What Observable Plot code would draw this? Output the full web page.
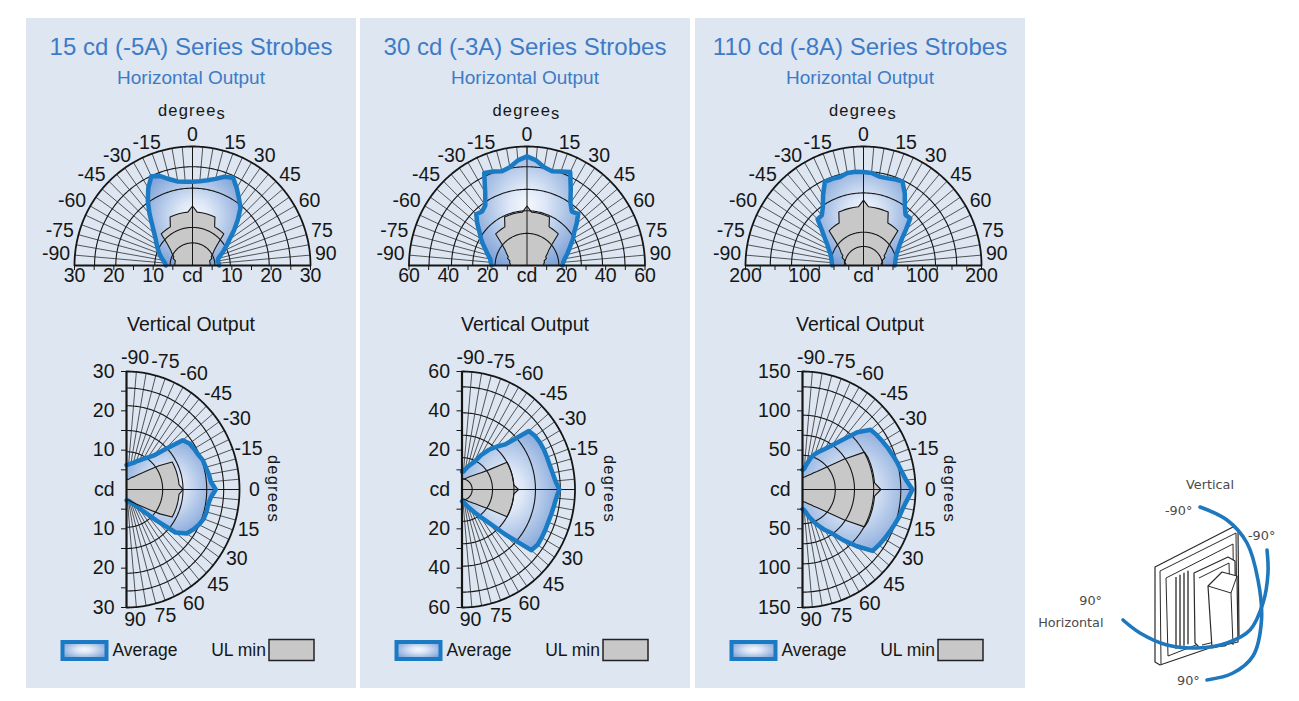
<!DOCTYPE html>
<html><head><meta charset="utf-8">
<script src="https://cdn.jsdelivr.net/npm/d3@7"></script>
<script src="https://cdn.jsdelivr.net/npm/@observablehq/plot@0.6"></script>
<style>
body{margin:0;background:#fff;}
#root{position:relative;width:1299px;height:701px;overflow:hidden;font-family:"Liberation Sans",Arial,Helvetica,sans-serif;}
.panel{position:absolute;top:18px;height:670px;width:330px;background:#dde6f1;}
.chart{position:absolute;}
</style></head><body><div id="root"></div>
<script>
// ---------------- data ----------------
const angles = [-90,-85,-80,-75,-70,-65,-60,-55,-50,-45,-40,-35,-30,-25,-20,-15,-10,-5,0,5,10,15,20,25,30,35,40,45,50,55,60,65,70,75,80,85,90];
const angleLabels = [-90,-75,-60,-45,-30,-15,0,15,30,45,60,75,90];
const titles = ["15 cd (-5A) Series Strobes","30 cd (-3A) Series Strobes","110 cd (-8A) Series Strobes"];
const hMax = [30, 60, 200];
const vMax = [30, 60, 150];
const hTickLabels = [[-30,-20,-10,0,10,20,30],[-60,-40,-20,0,20,40,60],[-200,-100,0,100,200]];
const vTickLabels = [[-30,-20,-10,0,10,20,30],[-60,-40,-20,0,20,40,60],[-150,-100,-50,0,50,100,150]];
const hTickStep = [5, 10, 25];
const vTickStep = [5, 10, 25];
// grid circles as fractions of the outer radius
const gridH = [[0.19,0.32,0.65,0.83,1],[0.27,0.46,0.64,0.83,1],[0.16,0.28,0.61,0.79,1]];
const gridV = [[0.32,0.5,0.71,0.86,1],[0.09,0.27,0.46,0.65,0.87,1],[0.29,0.46,0.63,0.87,1]];

// Horizontal output (cd), angles -90..90
const avgH15 = [6.8,7.0,7.6,8.3,9.0,9.7,10.5,11.4,12.7,14.5,17.0,19.8,22.5,24.8,24.0,22.5,21.5,21.2,21.1,21.3,21.8,22.6,23.8,24.4,22.5,20.6,19.0,16.3,13.8,11.5,10.0,8.7,7.6,6.8,6.5,6.7,6.8];
const ulH15  = [4.5,4.5,4.5,4.5,5.25,5.25,6.0,6.75,8.25,11.25,11.25,11.25,11.25,13.5,13.5,13.5,13.5,13.5,15,13.5,13.5,13.5,13.5,13.5,11.25,11.25,11.25,11.25,8.25,6.75,6.0,5.25,5.25,4.5,4.5,4.5,4.5];
const avgH30 = [18,18.5,19,20.5,22.2,24.5,27,29.5,33,36.5,35.5,37,42.5,51.5,50.5,49.2,50.3,53.2,55,53.2,50.3,49.2,50.5,52,44.5,38.5,35.5,36.8,33,29.3,27,24.5,22.6,21,19.5,18.5,18];
const ulH30  = [8.5,8.5,9,9,10.5,10.5,12,13.5,16.5,22.5,22.5,22.5,22.5,27,27,27,27,27,30,27,27,27,27,27,22.5,22.5,22.5,22.5,16.5,13.5,12,10.5,10.5,9,9,8.5,8.5];
const avgH110 = [53,54,55,57,60,65,71,80,92,110,110,120,137,155,155,154,158,158,157,156,152,152,154,156,140,122,111,112,94,80,71,65,60,57,55,54,53];
const ulH110  = [30,30,33,33,38.5,38.5,44,49.5,60.5,82.5,82.5,82.5,82.5,99,99,99,99,99,110,99,99,99,99,99,82.5,82.5,82.5,82.5,60.5,49.5,44,38.5,38.5,33,33,30,30];
// Vertical output (cd), angles -90 (top) .. 90 (bottom)
const avgV15 = [6.2,6.4,6.7,7.0,7.6,8.2,9.0,10.0,11.3,14.5,19.5,20.4,20.7,21.0,21.6,21.8,22.2,22.5,23.7,22.5,22.0,22.0,21.8,21.2,20.4,19.5,17.0,11.0,7.5,5.8,4.7,4.0,3.5,3.1,2.9,2.8,2.8];
const ulV15  = [2.5,2.6,2.6,2.8,3.1,3.4,3.7,4.3,5.0,6.0,7.7,10.5,14,14,14,14,14,14,15,14,14,14,14,14,14,10.8,8.0,6.3,5.2,4.5,3.9,3.5,3.2,2.9,2.7,2.7,2.7];
const avgV30 = [9.0,9.2,10.5,12.0,13.5,15.5,20.1,24.5,28.4,32.4,46.3,47.4,47.8,48,48,48.2,48.8,49.8,51.7,50.2,49.5,49,48.7,48.8,48.9,49,48,32,22,17,13.5,11,9.5,8,6.8,6.2,6];
const ulV30  = [5.3,5.3,5.4,5.7,6.1,6.6,7.3,8.2,9.3,10.9,13.3,17.4,27.6,27.6,27.6,27.6,27.6,27.6,30,27.6,27.6,27.6,27.6,27.6,27.6,17,13,10.5,9,7.8,7,6.2,5.7,5.2,4.9,4.7,4.7];
const avgV110 = [25,26.5,33,41.5,47.8,53.5,59.4,68.6,82,103,118,120.5,122.5,125,127.5,130.5,133.5,138,146,140,135.5,133,130,127.5,125.5,123.5,121.5,102,84,68,59.5,51,43.5,37,30.6,26.5,25];
const ulV110  = [15.2,15.5,16.2,17.2,18.5,20.2,22.5,26,30,36.5,47,67,95,96,96,96,96,96,104,96,96,96,96,96,95,67,47,36.5,30,26,22.5,20.2,18.5,17.2,16.2,15.5,15.2];

const avgH = [avgH15, avgH30, avgH110], ulH = [ulH15, ulH30, ulH110];
const avgV = [avgV15, avgV30, avgV110], ulV = [ulV15, ulV30, ulV110];

// ---------------- layout / style ----------------
const FONT = '"Liberation Sans", Arial, Helvetica, sans-serif';
const BLUE = "#1a7bc4", TITLE = "#3d7bc6", GREY = "#c8c8c8", INK = "#161616";
const W = 330;
const panelLeft = [25.5, 360, 695];
const hCx = [166, 166.5, 168], hCy = 265, hRadX = 118, hRadY = 119, hH = 300;
const vCx = [100, 101.5, 107], vCy = 189, vRadX = 113, vRadY = 118, vH = 388, vTop = 300;
const deg = Math.PI / 180;
const arcAngles = d3.range(-90, 90.001, 1);
const LBL = 19.5;

const root = document.getElementById("root");

// gradient defs
const defs = d3.select(root).append("svg").attr("width",0).attr("height",0).style("position","absolute").append("defs");
function grad(id, cx, cy){
  const g = defs.append("radialGradient").attr("id", id).attr("cx", cx).attr("cy", cy).attr("r", "0.6");
  g.append("stop").attr("offset","0").attr("stop-color","#f6f9fd");
  g.append("stop").attr("offset","0.3").attr("stop-color","#dde7f6");
  g.append("stop").attr("offset","1").attr("stop-color","#7ea2d8");
}
grad("gradH", "0.5", "0.45");
grad("gradV", "0.45", "0.5");

const polar = vals => angles.map((a, i) => ({a, r: vals[i]}));
const hx = d => d.r * Math.sin(d.a * deg), hy = d => d.r * Math.cos(d.a * deg);
const vx = d => d.r * Math.cos(d.a * deg), vy = d => d.r * Math.sin(d.a * deg);
const absFmt = d => d === 0 ? "cd" : String(Math.abs(d));

function steps(R, step){ const t=[]; for(let v=-R; v<=R+1e-9; v+=step){ if(Math.abs(v)>1e-9) t.push(v);} return t; }

function addText(s, x, y, str, size, fill, anchor){
  return s.append("text").attr("x", x).attr("y", y).attr("text-anchor", anchor || "middle").attr("fill", fill)
    .style("font-size", size + "px").style("font-family", FONT).text(str);
}

function hChart(p){
  const R = hMax[p], cx = hCx[p];
  const avg = polar(avgH[p]), ul = polar(ulH[p]);
  const fr = gridH[p];
  const inner = fr.slice(0, -1).flatMap(f => arcAngles.map(a => ({a, r: f * R, f})));
  const outer = arcAngles.map(a => ({a, r: R}));
  const lab = angleLabels.map(a => ({a, pa: Math.abs(a) === 90 ? Math.sign(a) * 86 : a}));
  const lx = d => 1.04 * R * Math.sin(d.pa * deg), ly = d => 1.04 * R * Math.cos(d.pa * deg);
  const svg = Plot.plot({
    width: W, height: hH, marginTop: 0, marginLeft: 0, marginRight: 0, marginBottom: hH - hCy,
    x: {domain: [-R, R], range: [cx - hRadX, cx + hRadX]},
    y: {domain: [0, R], range: [hCy, hCy - hRadY], axis: null},
    style: {background: "transparent", fontFamily: FONT, fontSize: "19px", color: INK, overflow: "visible"},
    marks: [
      Plot.link(angles, {x1: 0, y1: 0, x2: a => R * Math.sin(a * deg), y2: a => R * Math.cos(a * deg), stroke: INK, strokeWidth: 0.7}),
      Plot.line(avg, {x: hx, y: hy, fill: "url(#gradH)", stroke: "none"}),
      Plot.line(ul, {x: hx, y: hy, fill: GREY, stroke: "none"}),
      Plot.line(inner, {x: hx, y: hy, z: "f", stroke: INK, strokeWidth: 1.1}),
      Plot.line(outer, {x: hx, y: hy, stroke: INK, strokeWidth: 1.8}),
      Plot.ruleX([0], {y1: 0, y2: R, stroke: INK, strokeWidth: 1}),
      Plot.line(avg, {x: hx, y: hy, stroke: BLUE, strokeWidth: 4.5, strokeLinejoin: "round"}),
      Plot.line(ul, {x: hx, y: hy, stroke: INK, strokeWidth: 1.1}),
      Plot.ruleY([0], {x1: -R, x2: R, stroke: INK, strokeWidth: 2.2}),
      Plot.axisX({ticks: steps(R, hTickStep[p]), tickSize: 5, tickFormat: () => "", label: null, stroke: INK}),
      Plot.axisX({ticks: hTickLabels[p], tickSize: 0, tickPadding: 3, tickFormat: absFmt, label: null, fontSize: LBL, fill: INK}),
      Plot.text(lab.filter(d => d.a > 0), {x: lx, y: ly, text: d => String(d.a), textAnchor: "start", dy: -3, fontSize: LBL, fill: INK}),
      Plot.text(lab.filter(d => d.a < 0), {x: lx, y: ly, text: d => String(d.a), textAnchor: "end", dy: -3, fontSize: LBL, fill: INK}),
      Plot.text(lab.filter(d => d.a === 0), {x: lx, y: ly, text: d => String(d.a), dy: -7, fontSize: LBL, fill: INK})
    ]
  });
  const s = d3.select(svg);
  addText(s, W/2, 54.5, titles[p], 24, TITLE);
  addText(s, W/2, 84, "Horizontal Output", 19, TITLE);
  const dg = s.append("text").attr("x", cx).attr("y", 115.5).attr("text-anchor","middle").attr("fill",INK)
    .style("font-size","16.5px").style("font-family",FONT).style("letter-spacing","1.2px");
  dg.append("tspan").text("degree");
  dg.append("tspan").attr("dy", 3).text("s");
  svg.classList.add("chart");
  svg.style.left = panelLeft[p] + "px";
  svg.style.top = "0px";
  root.appendChild(svg);
}

function vChart(p){
  const R = vMax[p], cx = vCx[p];
  const avg = polar(avgV[p]), ul = polar(ulV[p]);
  const fr = gridV[p];
  const inner = fr.slice(0, -1).flatMap(f => arcAngles.map(a => ({a, r: f * R, f})));
  const outer = arcAngles.map(a => ({a, r: R}));
  const lab = angleLabels.map(a => ({a}));
  const lx = d => 1.04 * R * Math.cos(d.a * deg), ly = d => 1.04 * R * Math.sin(d.a * deg);
  const svg = Plot.plot({
    width: W, height: vH, marginTop: 0, marginLeft: cx, marginRight: 0, marginBottom: 0,
    x: {domain: [0, R], range: [cx, cx + vRadX], axis: null},
    y: {domain: [-R, R], range: [vCy - vRadY, vCy + vRadY]},
    style: {background: "transparent", fontFamily: FONT, fontSize: "19px", color: INK, overflow: "visible"},
    marks: [
      Plot.link(angles, {x1: 0, y1: 0, x2: a => R * Math.cos(a * deg), y2: a => R * Math.sin(a * deg), stroke: INK, strokeWidth: 0.7}),
      Plot.line(avg, {x: vx, y: vy, fill: "url(#gradV)", stroke: "none"}),
      Plot.line(ul, {x: vx, y: vy, fill: GREY, stroke: "none"}),
      Plot.line(inner, {x: vx, y: vy, z: "f", stroke: INK, strokeWidth: 1.1}),
      Plot.line(outer, {x: vx, y: vy, stroke: INK, strokeWidth: 1.8}),
      Plot.ruleY([0], {x1: 0, x2: R, stroke: INK, strokeWidth: 1}),
      Plot.line(avg, {x: vx, y: vy, stroke: BLUE, strokeWidth: 4.5, strokeLinejoin: "round"}),
      Plot.line(ul, {x: vx, y: vy, stroke: INK, strokeWidth: 1.1}),
      Plot.ruleX([0], {y1: -R, y2: R, stroke: INK, strokeWidth: 2.2}),
      Plot.axisY({ticks: steps(R, vTickStep[p]), tickSize: 5, tickFormat: () => "", label: null, stroke: INK}),
      Plot.axisY({ticks: vTickLabels[p], tickSize: 0, tickPadding: 12, tickFormat: absFmt, label: null, fontSize: LBL, fill: INK}),
      Plot.text(lab.filter(d => d.a < 0), {x: lx, y: ly, text: d => String(d.a), dx: 8.5, dy: -9, fontSize: LBL, fill: INK}),
      Plot.text(lab.filter(d => d.a > 0), {x: lx, y: ly, text: d => String(d.a), dx: 8.5, dy: 8, fontSize: LBL, fill: INK}),
      Plot.text(lab.filter(d => d.a === 0), {x: lx, y: ly, text: d => String(d.a), dx: 10.5, fontSize: LBL, fill: INK})
    ]
  });
  const s = d3.select(svg);
  addText(s, W/2, 31, "Vertical Output", 19.5, INK);
  s.append("text").attr("transform", `translate(${cx + 148},${vCy}) rotate(90)`).attr("text-anchor","middle")
    .attr("dominant-baseline","central").attr("fill",INK)
    .style("font-size","16.5px").style("font-family",FONT).style("letter-spacing","1.2px").text("degrees");
  // legend
  s.append("rect").attr("x", 36.5).attr("y", 342).attr("width", 44).attr("height", 17)
    .attr("fill", "url(#gradH)").attr("stroke", BLUE).attr("stroke-width", 4);
  addText(s, 86.5, 356, "Average", 17.5, INK, "start");
  addText(s, 240, 356, "UL min", 17.5, INK, "end");
  s.append("rect").attr("x", 243).attr("y", 339.5).attr("width", 45).attr("height", 21)
    .attr("fill", GREY).attr("stroke", "#222").attr("stroke-width", 1.5);
  svg.classList.add("chart");
  svg.style.left = panelLeft[p] + "px";
  svg.style.top = vTop + "px";
  root.appendChild(svg);
}

panelLeft.forEach((l, p) => {
  const d = document.createElement("div");
  d.className = "panel"; d.style.left = l + "px";
  root.appendChild(d);
});
for (let p = 0; p < 3; p++){ hChart(p); vChart(p); }

// ---------------- orientation illustration ----------------
(function(){
  const ox = 1030, oy = 440;
  const svg = d3.select(root).append("svg").attr("width", 269).attr("height", 261)
    .style("position","absolute").style("left", ox + "px").style("top", oy + "px");
  const g = svg.append("g").attr("transform", `translate(${-ox},${-oy})`);
  const line = d3.line();
  const poly = (pts, fill, sw) => g.append("path").attr("d", line(pts) + "Z").attr("fill", fill || "#fff").attr("stroke", "#2a2a2a").attr("stroke-width", sw || 1).attr("stroke-linejoin","round");
  const pl = (pts, sw) => g.append("path").attr("d", line(pts)).attr("fill", "none").attr("stroke", "#2a2a2a").attr("stroke-width", sw || 1);
  poly([[1155,567],[1233,527],[1238,529],[1239,638],[1160,665],[1155,662]], "#fff", 1.2);
  pl([[1160,571],[1161,664]]);
  pl([[1160,571],[1236,533],[1237,636]]);
  poly([[1166,578],[1233,544],[1234,630],[1168,656]], "#fff", 1);
  [1176, 1180, 1184, 1188].forEach(x => pl([[x, 578 - (x - 1166) * 0.51 + 4], [x, 656 - (x - 1168) * 0.39 - 4]], 1.3));
  poly([[1194,573],[1228,557],[1235,561],[1236,636],[1225,646],[1200,648],[1195,643]], "#fff", 1.2);
  pl([[1199,578],[1229,563],[1231,638],[1202,645]]);
  poly([[1208,586],[1222,572],[1237,576],[1238,642],[1212,648]], "#fff", 1.2);
  pl([[1208,586],[1231,593],[1237,576]]);
  pl([[1231,593],[1233,645]]);
  const curve = d3.line().curve(d3.curveCatmullRom);
  const arc = pts => g.append("path").attr("d", curve(pts)).attr("fill","none").attr("stroke","#1e78be").attr("stroke-width",3.6).attr("stroke-linecap","round");
  arc([[1200,507],[1227,520],[1247,543],[1258,580],[1261.5,620],[1253,656],[1233,673],[1207,680]]);
  arc([[1123,620],[1140,633],[1167,645],[1197,648],[1227,643],[1250,630],[1263,603],[1268,573],[1267,550]]);
  const txt = (x, y, t, anchor) => g.append("text").attr("x", x).attr("y", y).attr("text-anchor", anchor || "start")
    .attr("fill", "#4a4a4a").style("font-family", '"DejaVu Sans", Verdana, sans-serif').style("font-size", "12.8px").text(t);
  txt(1210, 489, "Vertical", "middle");
  txt(1165, 515, "-90°");
  txt(1248, 540, "-90°");
  txt(1102, 605, "90°", "end");
  txt(1103.5, 627, "Horizontal", "end");
  txt(1177, 685, "90°");
})();
</script></body></html>
